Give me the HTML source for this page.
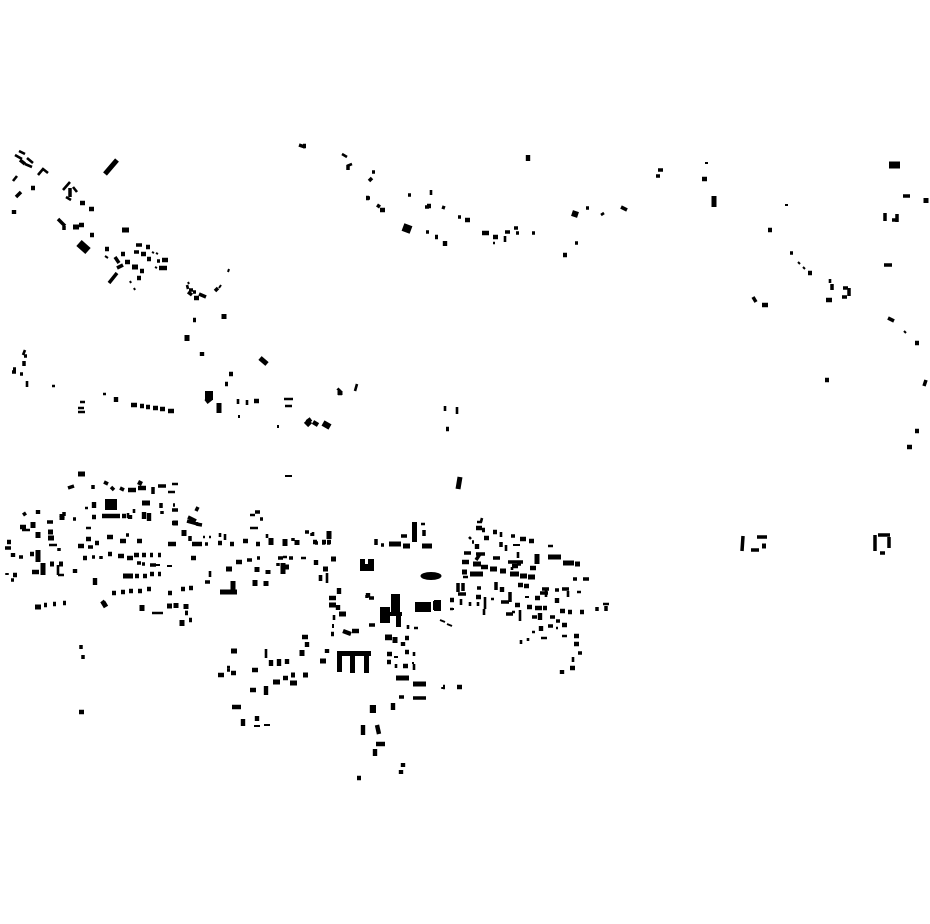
<!DOCTYPE html>
<html><head><meta charset="utf-8"><style>html,body{margin:0;padding:0;background:#fff}svg{display:block}</style></head>
<body><svg width="930" height="924" viewBox="0 0 930 924" xmlns="http://www.w3.org/2000/svg">
<rect width="930" height="924" fill="#fff"/>
<g fill="none" stroke="#000">
<path stroke-width="2" d="M285 476h7M394 657h4M513 545h7M525 597h4M333 624v4M412 663h2M451 609h3M254 726h6M264 725h6M152 565h6M156 565h4M167 566h5M141 563h-4M105 256l3 2M152 252l2 1M156 253l2 1M155 267l2 1M130 281l1 2M134 288l1 2M188 282l1 2M229 269l-1 3M221 285l-2 3M705 163h3M785 205h3M798 262l2 2M803 267l2 2M904 331l2 2M239 415v3M278 425v3M440 620l5 2M447 624l5 2"/>
<path stroke-width="2.6" d="M19 151l6 3M15 155l7 4M27 158l6 5M25 164l7 3M38 175l5-6 5 4M13 181l4-5M63 190l7-8M73 187l4 5M66 197l5 3M85 508h3M168 492h7M172 484h6M30 530h-8M250 515h5M255 512h5M86 528h5M250 528h8M49 545h8M210 571v6M225 534v6M267 534v4M321 575v6M327 574v9M283 557h4M301 558h5M203 537h2M209 537h2M220 533v4M134 509v4M128 513v5M122 516h3M43 563v12M58 565v10M58 575h6M313 532v4M320 575v6M327 573v9M334 615v5M401 536h6M421 524h4M408 625v4M414 652v4M414 628h4M414 664v6M396 664v4M477 522h5M482 518l-1 4M501 532v5M506 545v6M518 552v6M512 567v3M548 546h5M469 537l2 2M491 599h3M512 612h3M461 599v6M470 602v4M478 602v4M485 597v12M484 609v6M520 610v11M546 589v8M568 591v6M577 592h4M541 638h6M562 636h5M532 632h3M528 638v3M521 640v4M573 657v5M603 604h6M450 609h3M556 628h2M463 577h5M266 649v9M227 667h3M243 719v6M357 384l-2 7M445 406v5M457 407v7M342 154l5 3M347 166l5-2M431 190v5M505 236v6M493 243h2M601 215l3-2M830 279v4M284 399h9M285 406h7M238 399v5M247 400v5M25 350l-2 5M27 381v6M52 386h3M103 394h3M187 285l1 4M80 402h5M78 408h6M78 412h7M152 613h11M185 612h3"/>
<path stroke-width="3.5" d="M68 488l6-2M93 485v4M104 482l4 2M111 487l3 3M120 488l4 2M153 487v7M158 486h8M161 503v5M162 511v3M172 510h6M198 507l-2 4M188 517l8 4M187 521l11 3M196 524l6 1M23 515l3-2M64 512v4M60 518l4-2M73 519h3M47 522h6M5 548h6M19 557h4M59 548v3M88 547h5M126 535h3M190 536v5M293 538v3M305 532h4M312 533v3M315 543h3M322 543h3M327 543h3M92 557h3M101 556v3M137 563h4M142 564h3M150 565h6M205 582h5M247 560h5M257 558h3M278 563v3M278 558h5M289 558h4M11 580h3M7 573v2M227 670h3M205 544h3M173 505h2M260 519h3M58 219l7 7M64 226v4M20 160l5 4M255 512h5M70 188v9M16 197l5-5M109 283l8-10M117 268l6-3M136 245h6M134 252h5M157 261h3M115 257l4 6M189 290h4M193 292h3M199 294l7 3M215 291l3-3M299 145l6 2M366 198h4M408 195h3M425 207h4M426 232h3M532 233h3M575 243h3M586 208h3M621 207l6 3M658 170h5M656 176h4M753 297l3 5M790 253h3M888 318l6 3M926 380l-2 6M903 196h7M884 265h8M885 213v8M892 220h5M897 214v8M367 595v3M369 598h5M458 594h8M464 553h7M476 554h9M493 558h7M508 562h15M477 588h4M540 593h8M542 589h7M555 590h4M562 589h7M573 579h4M583 579h6M532 617h5M550 617h5M556 621h4M548 626h5M506 614h7M578 653h4M597 611v-4M606 606v5M369 625h6M401 536h6M458 583v9M463 583v8M496 582v8M510 592v10M501 602h8M484 538h5M511 536h4M501 542v5M472 542h2M476 560l4-6M517 564h4M381 545h3M376 539v6M424 530v6M443 687v2M399 697h5M413 698h13M250 690h6M81 645v4M83 655v4M188 292l4 3M348 165v5M372 172h3M372 178l-3 3M377 205l3 2M442 207l3 1M458 217h3M505 232h5M514 228h4M516 233h3M843 288h5M849 288v8M842 297h5M832 284v6M757 537h10M751 550h8M743 536l-1 15M878 535h12M875 535v16M889 537v11M880 553h5M24 361v5M13 369h3M20 374h3M27 356h-3M12 372h4"/>
<path stroke-width="4.4" d="M20 527h6M128 490h8M138 488h8M141 481l-2 4M172 523h6M44 605h3M53 604h3M63 603h3M83 558h4M108 554h4M118 556h6M127 558h6M134 555h5M142 555h4M150 555h3M158 555h3M191 558h5M13 553v4M30 554h4M7 542h4M78 546h6M86 539h5M95 543h4M107 537h6M120 541h6M137 541h5M168 544h8M192 544h10M218 543h4M230 544h4M243 541h5M256 544h4M236 562h6M13 575h4M32 572h7M75 569v4M92 517h4M102 516h14M115 516h5M122 516h4M130 515v4M144 512v7M149 513v8M94 502v6M38 510v4M112 593h4M121 592h4M129 591h4M138 591h4M147 589h4M168 593h4M181 589h4M189 588h4M135 576h4M143 576h4M150 574h4M158 574h3M185 613h3M189 620h3M95 578v7M31 188h4M14 210v4M80 203h5M89 209h5M90 235h4M79 225h5M105 249h4M121 254h4M125 262h5M140 271h4M137 278h4M146 247h4M141 254h5M147 259h4M162 260h6M159 268h8M194 298h5M229 374h4M225 384h3M193 320h3M202 352v4M116 397v5M131 405h6M140 406h4M146 407h4M153 408h5M160 409h5M168 411h6M338 391l2-2M338 393h4M446 429h3M303 146h3M366 198h3M380 210h5M427 206h4M465 220h5M435 237h3M445 241v5M482 233h7M493 237h5M563 255h4M768 230h4M825 380h4M808 273h4M915 343h4M915 431h4M907 447h5M826 300h6M762 305h6M702 179h5M254 401h5M307 422l4-3M313 422l5 3M528 155v6M313 542h4M322 542h4M327 542h4M316 560v5M331 559h5M323 569h5M329 598h7M339 588v6M338 605v5M331 634h3M343 631l8 3M352 631h7M327 649v4M368 593v4M385 638h7M405 638h4M403 642v4M405 652h4M387 654h5M387 662h4M403 666h5M443 687h2M457 687h5M393 703v7M516 605h4M527 607h5M535 608h7M543 608h4M560 611h5M568 612h4M580 612h4M574 636h5M574 644h5M570 668h5M562 670v4M541 626v5M562 625h5M540 613v7M515 605h3M502 587v5M524 586h5M518 585h5M535 598h5M557 598v5M476 528h6M482 530h3M493 532h4M477 544v5M484 538h5M520 539h6M529 541h5M462 562h7M481 567h7M512 566h6M530 568h6M476 597h5M450 600h4M218 675h6M231 673h5M252 670h6M250 690h6M283 678h5M271 660v6M279 659v7M287 659v5M302 637h6M307 642v5M266 686v9M243 719v7M257 716v5M232 707h9M372 705v8M363 725v10M377 725l2 9M376 744h9M375 749v7M403 763v4M401 770v4M357 778h4M79 712h5M102 601l3 4"/>
<path stroke-width="5" d="M78 474h7M142 503h8M173 523h5M257 567v5M268 570v4M35 607h6M142 605v6M167 606h5M176 603v5M186 604v5M182 620v6M43 563v12M50 564h4M59 564h4M38 550v12M38 532v6M48 532h5M48 538h6M33 522v6M62 514v6M184 530v6M271 538v7M285 539v7M297 540v5M329 531v6M255 580v6M266 581v5M233 581v13M123 576h10M226 569h6M283 563v11M283 567h6M331 559h5M323 569h5M220 592h17M103 602l3 5M73 227h6M122 230h7M132 267h6M105 174l12-14M224 314v5M187 335v6M260 358l7 6M219 403v10M211 398l-5 4M340 391v4M460 477l-2 12M329 605h7M339 614h7M329 533v6M422 546h10M403 546h7M389 544h12M548 557h13M563 563h11M575 564h5M537 554v10M473 564h8M490 569h7M500 571h6M510 574h9M520 576h7M528 577h7M470 574h13M462 572h5M395 637v6M396 678h13M413 684h13M385 637h7M231 651h6M303 675h5M290 683h7M273 682h7M291 675h4M302 650v6M320 661h6M714 196v11M926 198v5M762 546h4"/>
<path stroke-width="6" d="M330 427l-7-4M306 425l4-4M572 213l6 2M417 607h14M436 601v9M373 705v8M383 607v16"/>
<path stroke-width="7" d="M889 165h11"/>
<path stroke-width="8" d="M403 227l8 3M209 391v9"/>
<path stroke-width="8" d="M79 243l9 8"/>
</g>
<g fill="#000">
<rect x="105" y="499" width="12" height="11"/>
<rect x="360" y="559" width="14" height="12"/><rect x="365" y="558" width="3" height="6" fill="#fff"/>
<rect x="391" y="594" width="9" height="18"/><rect x="383" y="607" width="7" height="16"/><rect x="390" y="612" width="12" height="4"/><rect x="396" y="616" width="5" height="11"/>
<rect x="415" y="602" width="16" height="10"/><rect x="434" y="600" width="7" height="11"/>
<rect x="337" y="651" width="34" height="5"/><rect x="337" y="656" width="5" height="16"/><rect x="350" y="656" width="5" height="17"/><rect x="364" y="656" width="5" height="17"/>
<rect x="412" y="522" width="5" height="20"/>
<ellipse cx="431" cy="576" rx="10.5" ry="4"/>
</g>
</svg></body></html>
